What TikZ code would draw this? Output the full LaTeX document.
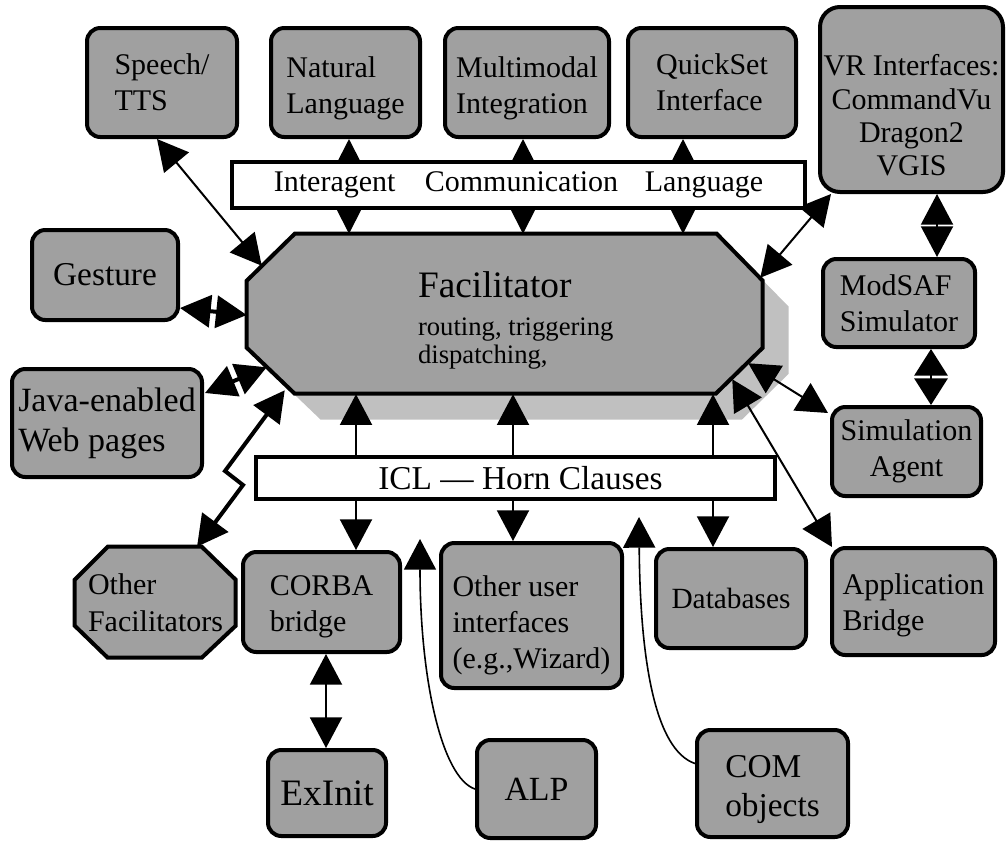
\documentclass[tikz,border=0pt]{standalone}
\usepackage{fontspec}
\setmainfont{Liberation Serif}
\usetikzlibrary{arrows.meta,calc}
\definecolor{boxgray}{RGB}{160,160,160}
\definecolor{shadowgray}{RGB}{192,192,192}
\pgfdeclarelayer{background}
\pgfdeclarelayer{front}
\pgfsetlayers{background,main,front}
\newcommand{\setfs}[2]{\fontsize{#1}{#2}\selectfont}
% strut that lowers a text block inside its box
\newcommand{\lift}[1]{\rule{0pt}{#1}}

\begin{document}
\begin{tikzpicture}[x=0.75pt,y=-0.75pt,
  % a node spanning the corners (x1,y1) and (x2,y2)
  spot/.style n args={4}{at={({(#1+#3)/2},{(#2+#4)/2})},
    minimum width={(#3-#1)*0.75pt}, minimum height={(#4-#2)*0.75pt}},
  agent/.style={draw=black, line width=3pt, fill=boxgray, rounded corners=10pt,
    inner sep=0pt, align=left, font=\setfs{22.5}{27}},
  bus/.style={draw=black, line width=2.7pt, fill=white, inner sep=0pt,
    font=\setfs{22.5}{27}},
  link/.style={line width=1.5pt,
    {Triangle[length=23pt,width=24pt]}-{Triangle[length=23pt,width=24pt]}},
  shortlink/.style={line width=1.5pt,
    {Triangle[length=20pt,width=25pt]}-{Triangle[length=20pt,width=25pt]}},
  boldlink/.style={link, line width=3pt},
  buslink/.style={line width=1.5pt,
    {Triangle[length=19pt,width=19pt]}-{Triangle[length=19pt,width=19pt]}},
  feed/.style={line width=1.2pt, -{Triangle[length=23pt,width=24pt]}}
]
\useasboundingbox (0,0) rectangle (1006,840);

% agents above the interagent bus
\node[agent, spot={87}{28}{237}{137}] (speech) {Speech/\\TTS};
\node[agent, spot={271}{28}{420}{137}] (nat) {\lift{24.4pt}Natural\\Language};
\node[agent, spot={445}{28}{609}{137}] (multi) {\lift{24.4pt}Multimodal\\Integration};
\node[agent, spot={628}{28}{796}{137}] (quick) {QuickSet\\Interface};
\node[agent, spot={820}{7}{1003}{192}, rounded corners=15pt, align=center,
      font=\setfs{22.5}{25}] (vr)
      {\lift{40pt}VR Interfaces:\\CommandVu\\Dragon2\\VGIS};

% agents on the sides
\node[agent, spot={32}{230}{178}{320}, align=center, font=\setfs{25}{30}] (gesture) {Gesture};
\node[agent, spot={12}{369}{202}{477}, font=\setfs{25.5}{30}] (java) {Java-enabled\\Web pages};
\node[agent, spot={823}{259}{975}{347}] (modsaf) {ModSAF\\Simulator};
\node[agent, spot={832}{407}{981}{496}, align=center] (sim) {Simulation\\Agent};

% agents below the ICL bus
\node[spot={75}{547}{236}{658}, inner sep=0pt, align=left,
      font=\setfs{22.5}{27.75}] (ofac) {Other\\Facilitators};
\node[agent, spot={243}{552}{400}{652}] (corba) {\lift{22.4pt}CORBA\\bridge};
\node[agent, spot={441}{543}{622}{688}] (oui)
      {\lift{29.7pt}Other user\\interfaces\\(e.g.,Wizard)};
\node[agent, spot={656}{549}{806}{648}, align=center, font=\setfs{22}{26}] (db) {Databases};
\node[agent, spot={832}{548}{995}{655}] (app) {\lift{21.1pt}Application\\Bridge};
\node[agent, spot={268}{750}{386}{836}, align=center, font=\setfs{28}{32}] (exinit) {ExInit};
\node[agent, spot={477}{740}{596}{838}, align=center, font=\setfs{25.4}{30}] (alp) {ALP};
\node[agent, spot={697}{730}{848}{837}, font=\setfs{25}{29}] (com) {\lift{25.9pt}COM\\objects};

% the facilitator
\node[spot={247}{234}{763}{394}, inner sep=0pt] (fac) {};
\node[anchor=north west, inner sep=0pt, align=left, font=\setfs{20}{21}] (factext)
      at ($(fac.north west)+(171,38)$)
      {{\setfs{28}{30}Facilitator}\\[7pt]routing, triggering\\dispatching,};

% octagonal outlines and the facilitator's shadow
\begin{pgfonlayer}{background}
  \fill[shadowgray, shift={($(fac.north west)+(26,26)$)}]
    (48,0) -- (470,0) -- (516,47) -- (516,114) -- (469,160) -- (48,160) -- (0,114) -- (0,47) -- cycle;
  \draw[line width=3pt, fill=boxgray, shift={(fac.north west)}]
    (48,0) -- (470,0) -- (516,47) -- (516,114) -- (469,160) -- (48,160) -- (0,114) -- (0,47) -- cycle;
  \draw[line width=3pt, fill=boxgray, shift={(ofac.north west)}]
    (33,0) -- (127,0) -- (161,33) -- (161,79) -- (127,111) -- (33,111) -- (0,79) -- (0,33) -- cycle;
\end{pgfonlayer}

% links through the interagent communication language bus
\coordinate (natx) at ($(nat.south)+(3.5,0)$);
\draw[buslink] (natx) -- (natx |- fac.north);
\coordinate (mulx) at ($(multi.south)+(-4,0)$);
\draw[buslink] (mulx) -- (mulx |- fac.north);
\coordinate (quix) at ($(quick.south)+(-29,0)$);
\draw[buslink] (quix) -- (quix |- fac.north);

% links through the ICL bus
\coordinate (corx) at ($(corba.north)+(34.5,0)$);
\draw[link] (corx |- fac.south) -- (corx);
\coordinate (ouix) at ($(oui.north)+(-18.5,0)$);
\draw[link] (ouix |- fac.south) -- (ouix);
\coordinate (dbx) at ($(db.north)+(-18,0)$);
\draw[link] (dbx |- fac.south) -- (dbx);

% direct links
\draw[link] ($(speech.south)+(-5,0)$) -- ($(fac.north west)+(15,32)$);
\draw[link] ($(vr.south west)+(13,0)$) -- ($(fac.north east)+(-3,44)$);
\coordinate (vrx) at ($(vr.south)+(25.5,0)$);
\draw[link] (vrx) -- (vrx |- modsaf.north);
\coordinate (msx) at ($(modsaf.south)+(32,0)$);
\draw[shortlink] (msx) -- (msx |- sim.north);
\draw[link] ($(sim.north west)+(-2,8)$) -- ($(fac.south east)+(-15,-31)$);
\draw[link] ($(app.north west)+(2,1)$) -- ($(fac.south east)+(-31,-15)$);
\draw[boldlink] ($(gesture.south east)+(0,-14)$) -- ($(fac.west)+(0,1)$);
\draw[boldlink] ($(java.north east)+(1,26)$) -- ($(fac.south west)+(20,-27)$);
\coordinate (zz1) at (243,485);
\coordinate (zz2) at (225,471);
\draw[boldlink] ($(ofac.north)+(41.5,0)$) -- (zz1) -- (zz2) -- ($(fac.south west)+(38,-4)$);
\coordinate (cex) at ($(corba.south)+(4.5,0)$);
\draw[link] (cex) -- (cex |- exinit.north);

% one-way feeds into the ICL layer
\coordinate (alptip) at (420,539);
\draw[feed] (alp.west) .. controls (442,778) and (420,680) .. (alptip);
\coordinate (comtip) at (639,517);
\draw[feed] ($(com.west)+(0,-20)$) .. controls (655,750) and (640,660) .. (comtip);

% the two language buses
\begin{pgfonlayer}{front}
  \node[bus, spot={232}{162}{805}{208}] (ial)
        {Interagent\hspace{22pt}Communication\hspace{20pt}Language};
  \node[bus, spot={256}{457}{775}{499}, font=\setfs{25}{30}] (icl)
        {\hspace*{7.5pt}ICL — Horn Clauses};
\end{pgfonlayer}
\end{tikzpicture}
\end{document}
